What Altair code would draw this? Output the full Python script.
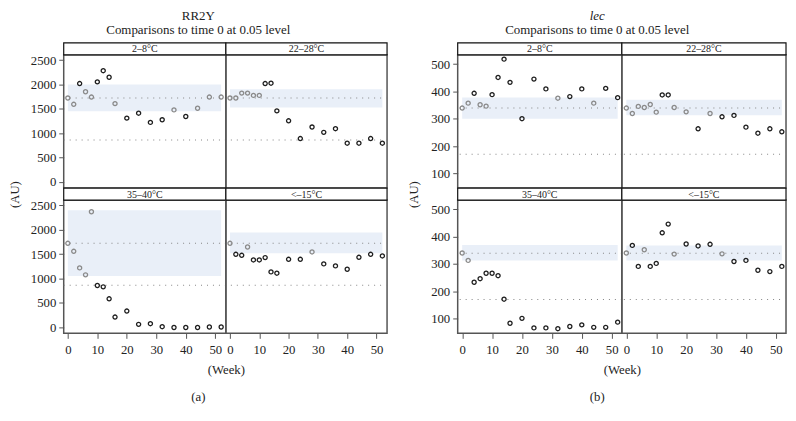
import altair as alt
import pandas as pd

SERIF = "Liberation Serif"
weeks = [0, 2, 4, 6, 8, 10, 12, 14, 16, 20, 24, 28, 32, 36, 40, 44, 48, 52]
panel_names = ["2–8°C", "22–28°C", "35–40°C", "<–15°C"]

# ---- (a) RR2Y ----
a_vals = [
    [1721, 1592, 2019, 1850, 1741, 2053, 2283, 2148, 1606, 1308, 1409, 1220, 1274, 1477, 1341, 1511, 1741, 1741],
    [1721, 1721, 1822, 1822, 1775, 1775, 2019, 2026, 1457, 1253, 888, 1125, 1016, 1091, 793, 793, 888, 793],
    [1721, 1556, 1215, 1072, 2369, 853, 826, 580, 205, 328, 55, 68, 7, -10, -10, -10, 0, 0],
    [1721, 1495, 1474, 1645, 1379, 1379, 1427, 1133, 1106, 1392, 1392, 1543, 1297, 1256, 1188, 1433, 1495, 1461],
]
a_sig = [
    [0, 0, 1, 0, 0, 1, 1, 1, 0, 1, 1, 1, 1, 0, 1, 0, 0, 0],
    [0, 0, 0, 0, 0, 0, 1, 1, 1, 1, 1, 1, 1, 1, 1, 1, 1, 1],
    [0, 0, 0, 0, 0, 1, 1, 1, 1, 1, 1, 1, 1, 1, 1, 1, 1, 1],
    [0, 1, 1, 0, 1, 1, 1, 1, 1, 1, 1, 0, 1, 1, 1, 1, 1, 1],
]
a_bands = [[1450, 2000], [1525, 1900], [1050, 2400], [1515, 1945]]
a_refs = [1721, 860]
a_yticks = [0, 500, 1000, 1500, 2000, 2500]
a_ydom = [-130, 2610]

# ---- (b) lec ----
b_vals = [
    [339, 357, 393, 351, 346, 388, 451, 518, 433, 300, 445, 409, 375, 381, 409, 357, 411, 377],
    [339, 319, 345, 341, 352, 324, 387, 387, 341, 325, 263, 319, 307, 312, 269, 247, 263, 252],
    [340, 313, 233, 246, 266, 266, 257, 171, 83, 101, 66, 66, 63, 71, 77, 68, 68, 87],
    [340, 368, 291, 352, 291, 302, 414, 446, 336, 373, 366, 372, 337, 309, 313, 277, 272, 291],
]
b_sig = [
    [0, 0, 1, 0, 0, 1, 1, 1, 1, 1, 1, 1, 0, 1, 1, 0, 1, 1],
    [0, 0, 0, 0, 0, 0, 1, 1, 0, 0, 1, 0, 1, 1, 1, 1, 1, 1],
    [0, 0, 1, 1, 1, 1, 1, 1, 1, 1, 1, 1, 1, 1, 1, 1, 1, 1],
    [0, 1, 1, 0, 1, 1, 1, 1, 0, 1, 1, 1, 0, 1, 1, 1, 1, 1],
]
b_bands = [[300, 378], [313, 369], [313, 369], [313, 368]]
b_refs = [339, 170]
b_yticks = [100, 200, 300, 400, 500]
b_ydom = [46, 534]

band_x = [0, 52]
x_ticks = [0, 10, 20, 30, 40, 50]

H = 134
SH = 12
BAND_COLOR = "#e9eff8"
PT_COLORS = ["#8a8a8a", "#1e1e1e"]
TXT = "#222222"
FS = 12.8


def make_panel(name, vals, sig, band, refs, ydom, yticks, xdom, w, show_y, show_x,
               ytitle_x=None, xtitle=False):
    xs = alt.Scale(domain=xdom, nice=False, zero=False)
    ys = alt.Scale(domain=ydom, nice=False, zero=False)
    if show_y:
        ykw = dict(values=yticks, format="d", grid=False, domain=False, tickSize=5, tickColor="#555",
                   labelPadding=3, labelFont=SERIF, labelFontSize=FS, labelColor=TXT)
        if ytitle_x is not None:
            ykw.update(title="(AU)", titleFont=SERIF, titleFontSize=FS, titleFontWeight="normal",
                       titleColor=TXT, titleAngle=270, titleAlign="center", titleBaseline="middle",
                       titleX=ytitle_x, titleY=H + SH / 2)
        else:
            ykw["title"] = None
        yax = alt.Axis(**ykw)
    else:
        yax = None
    if show_x:
        xkw = dict(values=x_ticks, format="d", grid=False, domain=False, tickSize=5, tickColor="#555",
                   labelPadding=5, labelFont=SERIF, labelFontSize=FS, labelColor=TXT)
        if xtitle:
            xkw.update(title="(Week)", titleFont=SERIF, titleFontSize=FS, titleFontWeight="normal",
                       titleColor=TXT, titleAlign="center", titleBaseline="middle",
                       titleX=w, titleY=36)
        else:
            xkw["title"] = None
        xax = alt.Axis(**xkw)
    else:
        xax = None

    df = pd.DataFrame({"week": weeks, "value": vals,
                       "sig": ["sig" if s else "ns" for s in sig]})
    band_df = pd.DataFrame({"x0": [band_x[0]], "x1": [band_x[1]], "lo": [band[0]], "hi": [band[1]]})
    ref_df = pd.DataFrame({"v": refs})
    strip_df = pd.DataFrame({"t": [name]})

    band_l = alt.Chart(band_df).mark_rect(color=BAND_COLOR).encode(
        x=alt.X("x0:Q", scale=xs, axis=xax), x2="x1",
        y=alt.Y("lo:Q", scale=ys, axis=yax), y2="hi")
    rules = alt.Chart(ref_df).mark_rule(color="#858585", strokeDash=[1, 5], strokeWidth=1.1).encode(
        y=alt.Y("v:Q", scale=ys, axis=yax))
    pts = alt.Chart(df).mark_point(shape="circle", filled=False, size=17, strokeWidth=1.3, opacity=1).encode(
        x=alt.X("week:Q", scale=xs, axis=xax),
        y=alt.Y("value:Q", scale=ys, axis=yax),
        color=alt.Color("sig:N", scale=alt.Scale(domain=["ns", "sig"], range=PT_COLORS), legend=None))
    strip_box = alt.Chart(strip_df).mark_rect(fill="white", stroke="#111", strokeWidth=1.2).encode(
        x=alt.value(0), x2=alt.value(w), y=alt.value(-SH), y2=alt.value(0))
    strip_txt = alt.Chart(strip_df).mark_text(font=SERIF, fontSize=10, color=TXT, baseline="middle").encode(
        text="t:N", x=alt.value(w / 2), y=alt.value(-SH / 2 + 0.5))
    return alt.layer(band_l, rules, pts, strip_box, strip_txt).properties(
        width=w, height=H, view=alt.ViewBackground(stroke="#555", strokeWidth=1.5))


def make_fig(title, italic, vals, sig, bands, refs, ydom, yticks, xdom, widths, ytx, caption):
    ps = []
    for i in range(4):
        r, c = divmod(i, 2)
        ps.append(make_panel(panel_names[i], vals[i], sig[i], bands[i], refs, ydom, yticks, xdom,
                             widths[c], show_y=(c == 0), show_x=(r == 1),
                             ytitle_x=(ytx if i == 0 else None), xtitle=(i == 2)))
    grid = alt.concat(*ps, columns=2, spacing=alt.RowColnumber(row=SH, column=0), bounds="flush",
                      title=alt.TitleParams(title, subtitle="Comparisons to time 0 at 0.05 level",
                                            font=SERIF, fontSize=13, fontWeight="normal",
                                            fontStyle=("italic" if italic else "normal"), color=TXT,
                                            subtitleFont=SERIF, subtitleFontSize=13, subtitleColor=TXT,
                                            subtitlePadding=1, anchor="middle", offset=5))
    return alt.vconcat(grid, title=alt.TitleParams(caption, orient="bottom", font=SERIF, fontSize=FS,
                                                   fontWeight="normal", color=TXT, anchor="middle",
                                                   offset=14))


figA = make_fig("RR2Y", False, a_vals, a_sig, a_bands, a_refs, a_ydom, a_yticks,
                [-1.4, 53.6], [163, 162], -49, "(a)")
figB = make_fig("lec", True, b_vals, b_sig, b_bands, b_refs, b_ydom, b_yticks,
                [-1.5, 53.4], [165, 165], -44, "(b)")

chart = alt.hconcat(figA, figB, spacing=18).properties(
    padding={"left": 0, "top": 0, "right": 0, "bottom": 0}
).configure_view(stroke="#555").configure(background="white")

chart.save("out.html", embed_options={"renderer": "svg", "actions": False})
